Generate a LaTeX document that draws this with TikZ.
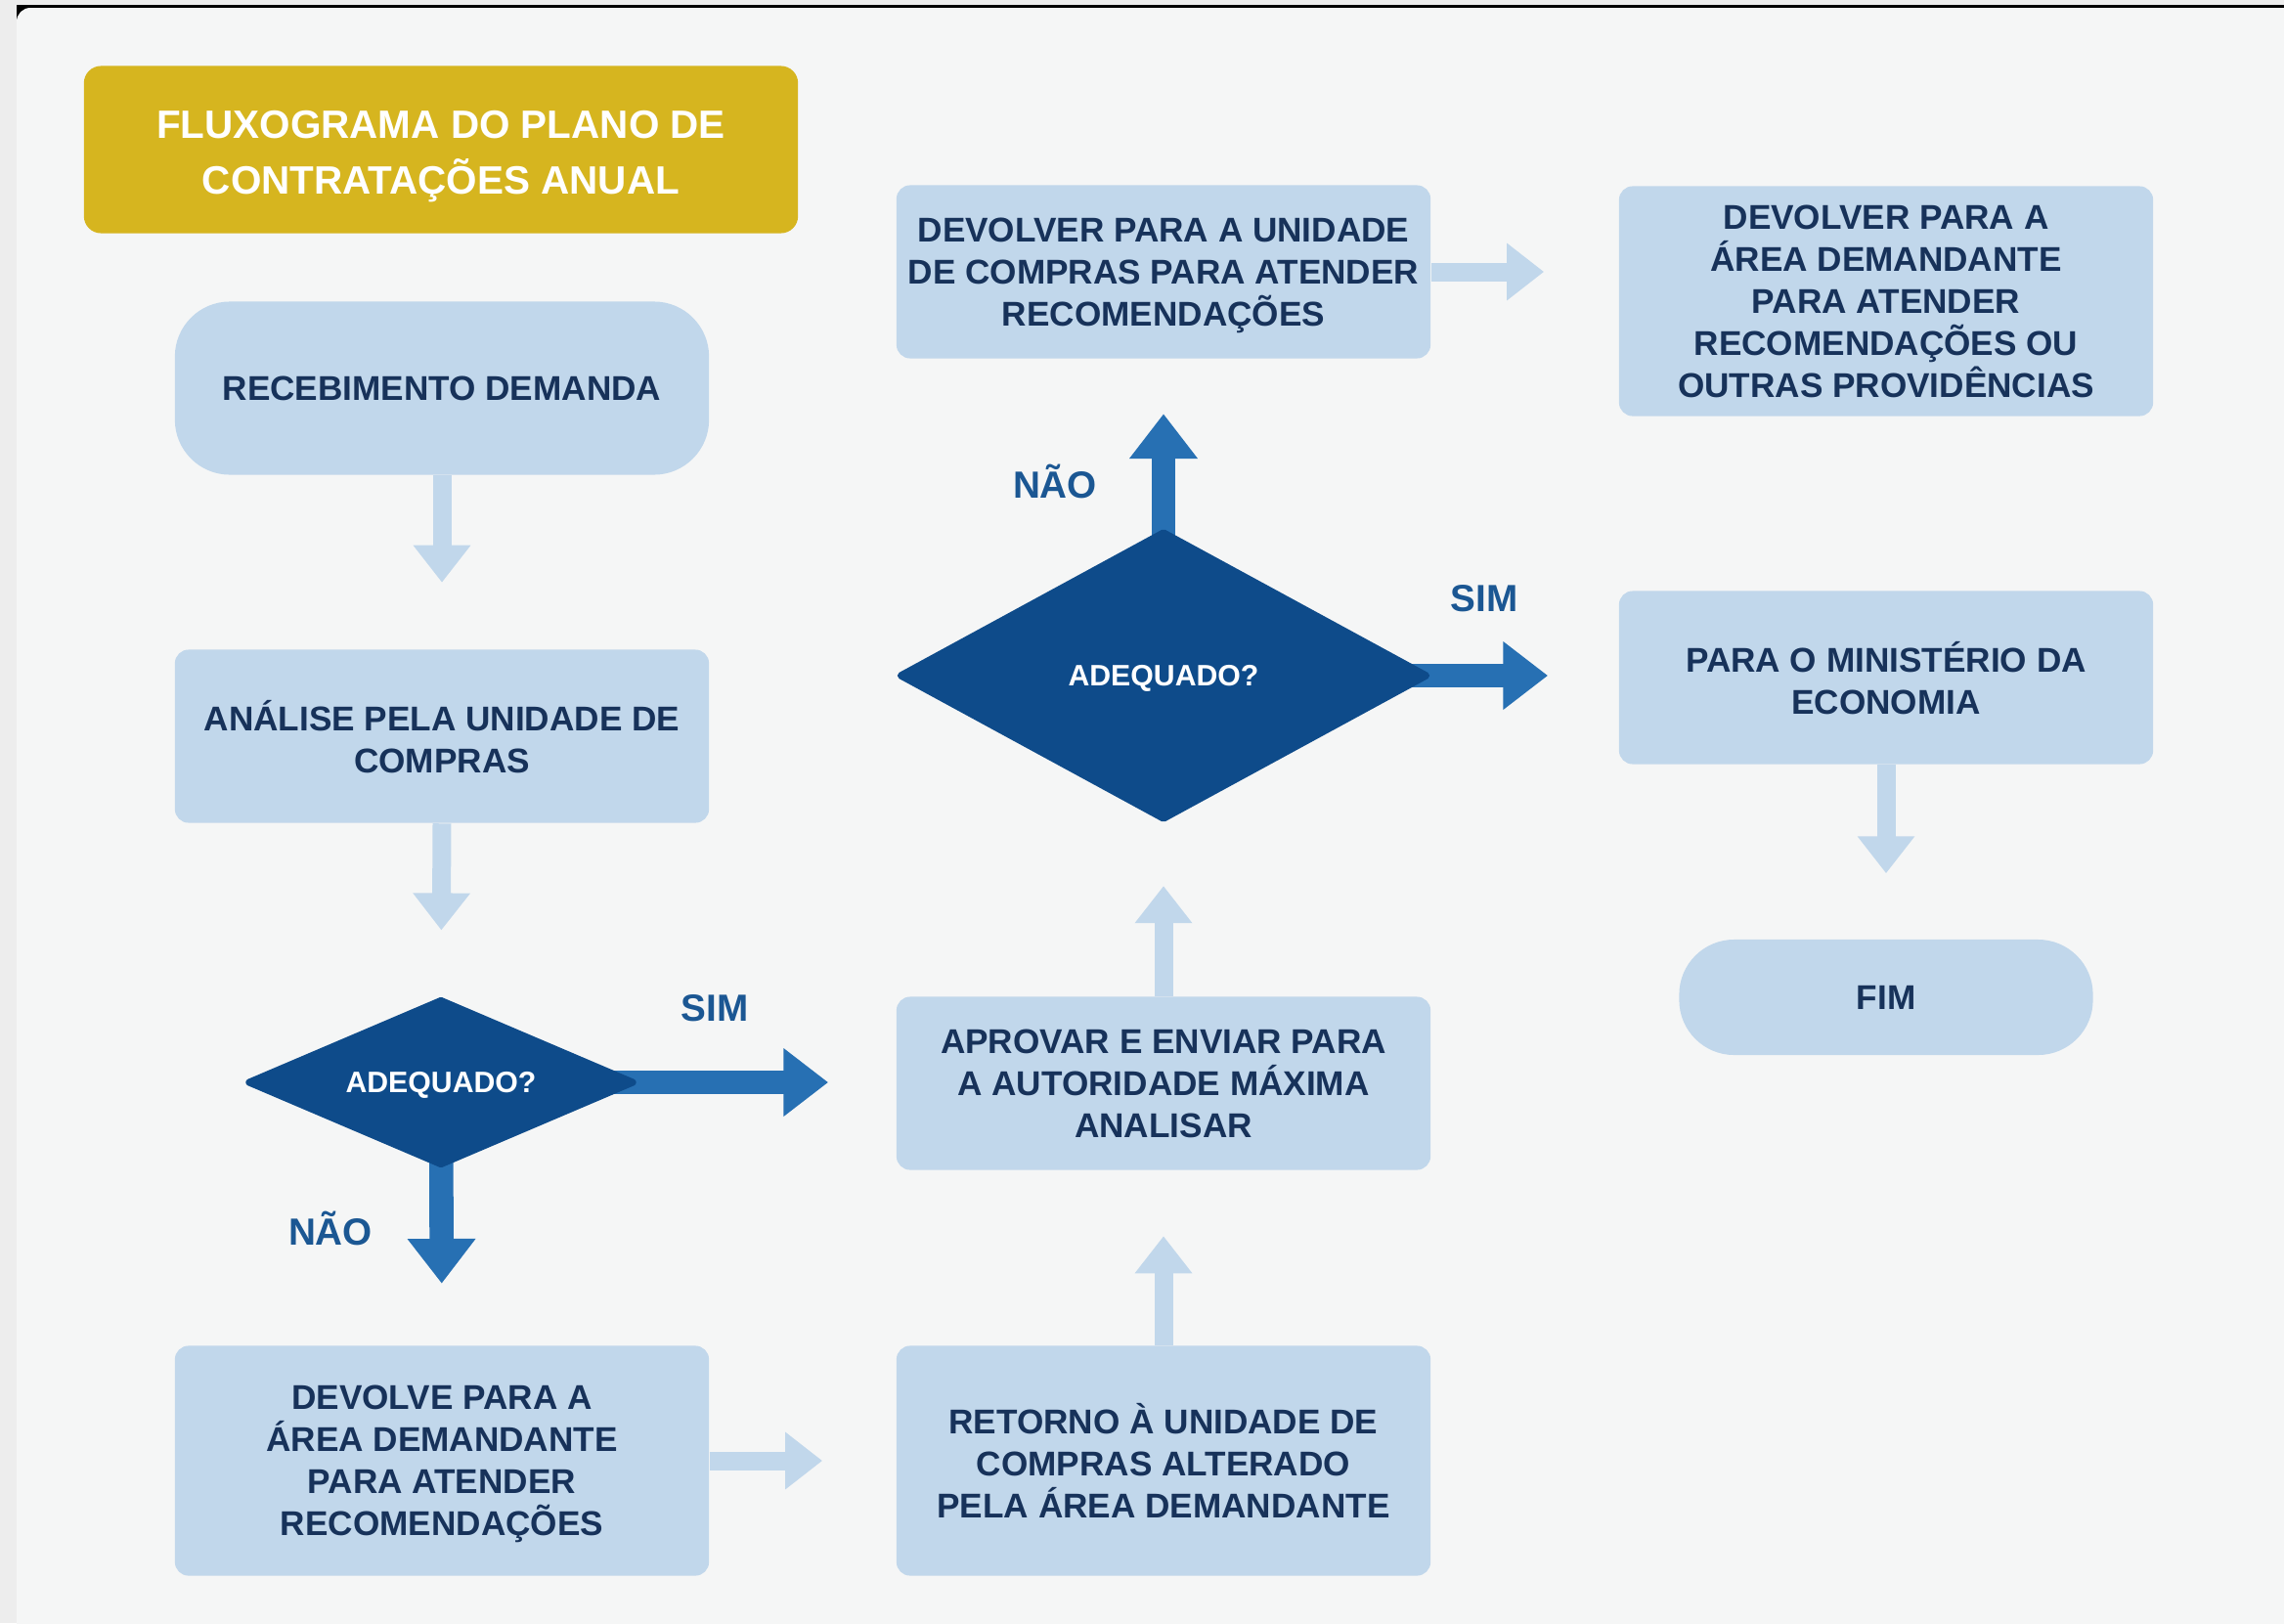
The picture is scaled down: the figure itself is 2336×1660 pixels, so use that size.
\documentclass[tikz,border=0pt]{standalone}
\usepackage{fontspec}
\setmainfont{Liberation Sans}
\usetikzlibrary{arrows.meta,shapes.geometric}

\definecolor{boxblue}{HTML}{C1D7EB}
\definecolor{deepblue}{HTML}{0E4B8A}
\definecolor{midblue}{HTML}{2770B3}
\definecolor{tagblue}{HTML}{1B5793}
\definecolor{navy}{HTML}{17325A}
\definecolor{gold}{HTML}{D6B51F}
\definecolor{sheet}{HTML}{F5F6F6}
\definecolor{rim}{HTML}{EDEDED}

\pgfdeclarelayer{paper}
\pgfdeclarelayer{links}
\pgfsetlayers{paper,links,main}

\begin{document}
\begin{tikzpicture}[x=0.01cm,y=-0.01cm]
        \tikzset{box/.style = {shape=rectangle,rounded corners=4pt,fill=boxblue,text=navy,align=center,inner sep=0pt,text depth=0pt,
                 minimum width=5.46cm,minimum height=1.77cm,font={\fontsize{10pt}{12.2pt}\selectfont\bfseries}}};
        \tikzset{tall/.style = {box,minimum height=2.35cm}};
        \tikzset{pill/.style = {box,rounded corners=16pt}};
        \tikzset{ask/.style = {shape=diamond,aspect=1.8,fill=deepblue,draw=deepblue,line width=2pt,line join=round,
                 text=white,inner sep=0pt,text depth=0pt,font={\fontsize{8.6pt}{10pt}\selectfont\bfseries}}};
        \tikzset{tag/.style = {text=tagblue,font={\fontsize{11pt}{13pt}\selectfont\bfseries}}};
        \tikzset{flow/.style = {draw=boxblue,line width=5.4pt,-{Triangle[length=10.8pt,width=16pt]}}};
        \tikzset{pick/.style = {draw=midblue,line width=7pt,-{Triangle[length=13pt,width=19pt]}}};
        \useasboundingbox (0,0) rectangle (2336,1660);
        \begin{pgfonlayer}{paper}
        \fill[rim] (0,0) rectangle (2336,1660);
        \fill[black] (17,5) rectangle (2336,9);
        \fill[black] (17,5) rectangle (40,30);
        \fill[sheet,rounded corners=4pt] (17,8) rectangle (2400,1720);
        \end{pgfonlayer}
        \node[box,fill=gold,text=white,rounded corners=5pt,minimum width=7.3cm,minimum height=1.71cm,text height=26pt,
              font={\fontsize{11.5pt}{16.2pt}\selectfont\bfseries}] (title) at (451,153) {FLUXOGRAMA DO PLANO DE\\CONTRATAÇÕES ANUAL};
        \node[pill] (recv) at (452,397) {RECEBIMENTO DEMANDA};
        \node[box] (anal) at (452,753) {ANÁLISE PELA UNIDADE DE\\COMPRAS};
        \node[ask,minimum width=3.95cm,minimum height=1.7cm] (ask1) at (451,1107) {ADEQUADO?};
        \node[tall] (back) at (452,1494) {DEVOLVE PARA A\\ÁREA DEMANDANTE\\PARA ATENDER\\RECOMENDAÇÕES};
        \node[tall] (ret) at (1190,1494) {RETORNO À UNIDADE DE\\COMPRAS ALTERADO\\PELA ÁREA DEMANDANTE};
        \node[box] (aprov) at (1190,1108) {APROVAR E ENVIAR PARA\\A AUTORIDADE MÁXIMA\\ANALISAR};
        \node[ask,minimum width=5.4cm,minimum height=2.95cm] (ask2) at (1190,691) {ADEQUADO?};
        \node[box] (redo) at (1190,278) {DEVOLVER PARA A UNIDADE\\DE COMPRAS PARA ATENDER\\RECOMENDAÇÕES};
        \node[tall] (devol) at (1929,308) {DEVOLVER PARA A\\ÁREA DEMANDANTE\\PARA ATENDER\\RECOMENDAÇÕES OU\\OUTRAS PROVIDÊNCIAS};
        \node[box] (mine) at (1929,693) {PARA O MINISTÉRIO DA\\ECONOMIA};
        \node[pill,minimum width=4.23cm,minimum height=1.18cm] (fim) at (1929,1020) {FIM};
        \node[tag] (sim1) at (731,1031) {SIM};
        \node[tag] (nao1) at (338,1256) {NÃO};
        \node[tag] (nao2) at (1079,492) {NÃO};
        \node[tag] (sim2) at (1518,612) {SIM};
        \begin{pgfonlayer}{links}
        \draw[flow,shorten >=0.68cm] (recv.south) -- (anal.north);
        \draw[flow,shorten >=0.67cm] (anal.south) -- (ask1.north);
        \draw[pick,shorten >=0.69cm] (ask1.center) -- (ask1.center -| aprov.west);
        \draw[pick,shorten >=0.63cm] (ask1.center) -- (back.north);
        \draw[flow,shorten >=0.75cm] (back.east) -- (ret.west);
        \draw[flow,shorten >=0.67cm] (ret.north) -- (aprov.south);
        \draw[flow,shorten >=0.64cm] (aprov.north) -- (ask2.south);
        \draw[pick,shorten >=0.56cm] (ask2.center) -- (redo.south);
        \draw[pick,shorten >=0.72cm] (ask2.center) -- (ask2.center -| mine.west);
        \draw[flow,shorten >=0.76cm] (redo.east) -- (redo.east -| devol.west);
        \draw[flow,shorten >=0.67cm] (mine.south) -- (fim.north);
        \end{pgfonlayer}
\end{tikzpicture}
\end{document}
